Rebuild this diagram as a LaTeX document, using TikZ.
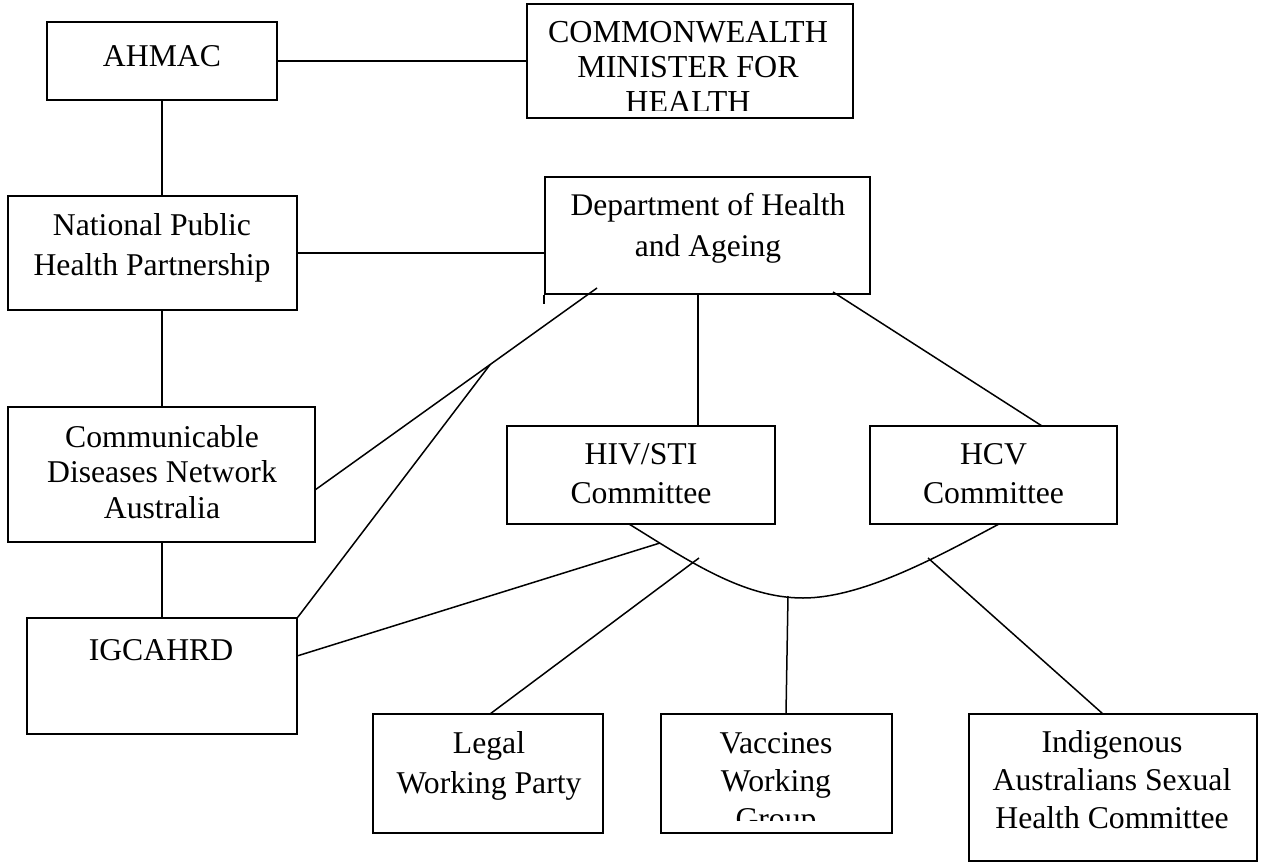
\documentclass[tikz,border=0pt]{standalone}
\usepackage{fontspec}
\setmainfont{Liberation Serif}
\usetikzlibrary{fit,calc}
\begin{document}
\begin{tikzpicture}[x=1pt,y=-1pt,
  box/.style={draw,line width=1.6pt,inner sep=0pt,fill=none},
  wire/.style={line width=1.5pt},
  txt/.style={inner sep=0pt,align=center,anchor=north}]
\useasboundingbox (0,0) rectangle (1262,865);
% boxes
\node[box,fit={(47,22)(277,100)}] (ahmac) {};
\node[box,fit={(527,4)(853,118)}] (cw) {};
\node[box,fit={(8,196)(297,310)}] (nphp) {};
\node[box,fit={(545,177)(870,294)}] (dept) {};
\node[box,fit={(8,407)(315,542)}] (comm) {};
\node[box,fit={(27,618)(297,734)}] (igc) {};
\node[box,fit={(507,426)(775,524)}] (hiv) {};
\node[box,fit={(870,426)(1117,524)}] (hcv) {};
\node[box,fit={(373,714)(603,833)}] (legal) {};
\node[box,fit={(661,714)(892,833)}] (vacc) {};
\node[box,fit={(969,714)(1257,861)}] (indig) {};
% texts
\node[txt,font=\fontsize{31.7}{40}\selectfont] (ahmac-t) at (162,38) {\strut AHMAC};
\begin{scope}
\clip (527,4) rectangle (853,110);
\node[txt,font=\fontsize{32}{35}\selectfont] (cw-t) at (688,17.5) {\strut COMMONWEALTH\\MINISTER FOR\\HEALTH};
\end{scope}
\node[txt,font=\fontsize{31.7}{40}\selectfont] (nphp-t) at (152,207) {\strut National Public\\Health Partnership};
\node[txt,font=\fontsize{31.5}{41}\selectfont] (dept-t) at (708,186.3) {\strut Department of Health\\and Ageing};
\node[txt,font=\fontsize{31.7}{35.5}\selectfont] (comm-t) at (162,422.1) {\strut Communicable\\Diseases Network\\Australia};
\node[txt,font=\fontsize{31.7}{40}\selectfont] (igc-t) at (161,632) {\strut IGCAHRD};
\node[txt,font=\fontsize{31.7}{39}\selectfont] (hiv-t) at (641,436.7) {\strut HIV/STI\\Committee};
\node[txt,font=\fontsize{31.7}{39}\selectfont] (hcv-t) at (993.5,436.7) {\strut HCV\\Committee};
\node[txt,font=\fontsize{31.7}{40}\selectfont] (legal-t) at (489,725) {\strut Legal\\Working Party};
\begin{scope}
\clip (661,714) rectangle (892,820);
\node[txt,font=\fontsize{31.7}{38}\selectfont] (vacc-t) at (776,726.4) {\strut Vaccines\\Working\\Group};
\end{scope}
\node[txt,font=\fontsize{31.7}{38}\selectfont] (indig-t) at (1112,725.4) {\strut Indigenous\\Australians Sexual\\Health Committee};
% extra left edge of department box
\draw[wire] (dept.south west) -- ++(0,9);
% coordinates
\coordinate (dA) at (597,288);
\coordinate (commR) at (315,490);
\coordinate (split) at ($(dA)!0.379!(commR)$);
\coordinate (dv) at (698,294);
\coordinate (dB) at (833,292);
\coordinate (hcvT) at (1042,426);
\coordinate (hivB) at (629,524);
\coordinate (hcvB) at (999,524);
\coordinate (cmin) at (803,598);
\coordinate (cl) at (660,543);
\coordinate (igcR) at (297,656);
\coordinate (cm) at (699,558);
\coordinate (legalT) at (490,714);
\coordinate (cv) at (788,596);
\coordinate (vaccT) at (786,714);
\coordinate (cr) at (928,558);
\coordinate (indigT) at (1103,714);
% connectors
\draw[wire] (ahmac.east) -- (ahmac.east -| cw.west);
\draw[wire] (ahmac.south) -- (ahmac.south |- nphp.north);
\draw[wire] (nphp.east) -- (nphp.east -| dept.west);
\draw[wire] (ahmac.south |- nphp.south) -- (ahmac.south |- comm.north);
\draw[wire] (ahmac.south |- comm.south) -- (ahmac.south |- igc.north);
\draw[wire] (dA) -- (commR);
\draw[wire] (split) -- (igc.north east);
\draw[wire] (dv) -- (dv |- hiv.north);
\draw[wire] (dB) -- (hcvT);
\draw[wire] (hivB) .. controls (689,561) and (743,598) .. (cmin)
  .. controls (863,598) and (939,556) .. (hcvB);
\draw[wire] (igcR) -- (cl);
\draw[wire] (cm) -- (legalT);
\draw[wire] (cv) -- (vaccT);
\draw[wire] (cr) -- (indigT);
\end{tikzpicture}
\end{document}
